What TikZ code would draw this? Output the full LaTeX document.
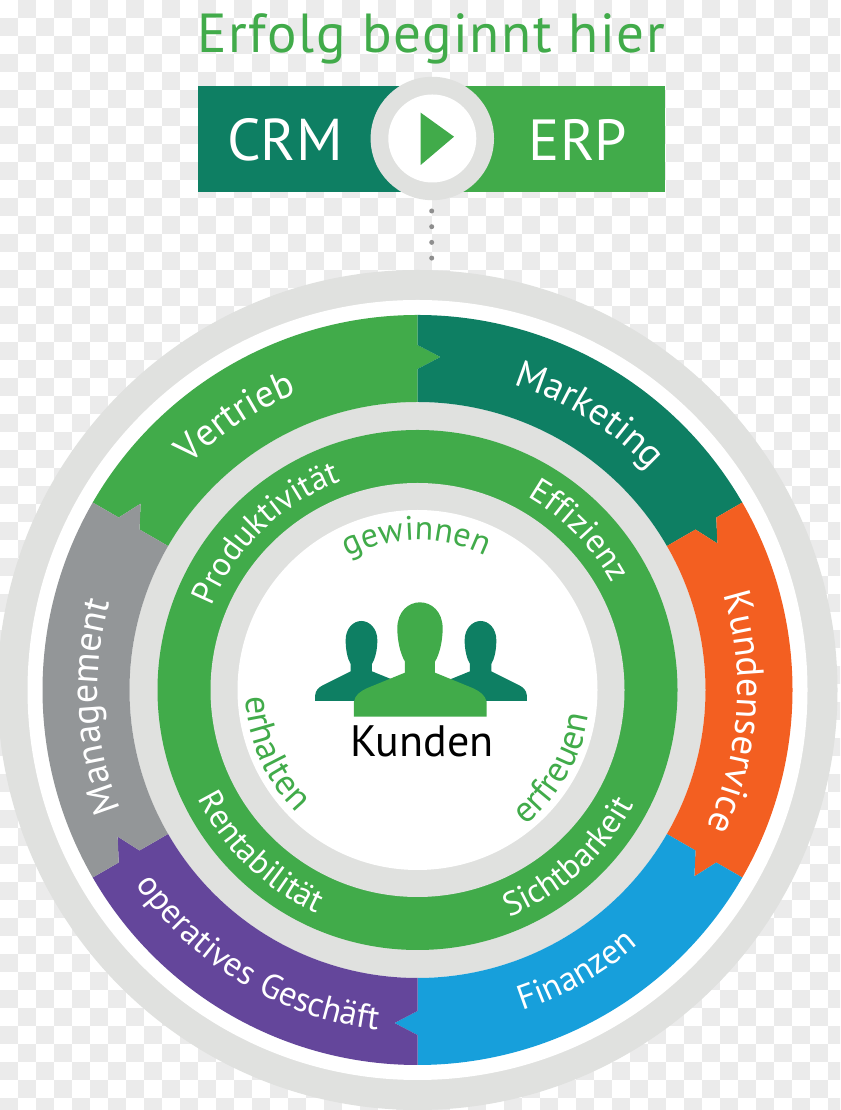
\documentclass[tikz,border=0pt]{standalone}
\usepackage{fontspec}
\setmainfont{PT Sans}
\newfontfamily\arcfont[LetterSpace=4]{PT Sans}
\newfontfamily\arcfontw[LetterSpace=18]{PT Sans}
\newfontfamily\titlefont[LetterSpace=3]{PT Sans}
\usetikzlibrary{decorations.text}
\definecolor{ringgray}{HTML}{E0E1DF}
\definecolor{checker}{HTML}{EBEBEB}
\definecolor{dkgreen}{HTML}{0E7F63}
\definecolor{ltgreen}{HTML}{41AB4A}
\definecolor{orangeseg}{HTML}{F35F21}
\definecolor{blueseg}{HTML}{179FDB}
\definecolor{purpleseg}{HTML}{64469B}
\definecolor{grayseg}{HTML}{939698}
\definecolor{dotgray}{HTML}{8E8E8E}
\newcommand\fsA{\arcfont\fontsize{38}{38}\selectfont\color{white}}
\newcommand\fsD{\arcfont\fontsize{34.5}{34.5}\selectfont\color{white}}
\newcommand\fsB{\arcfont\fontsize{33.5}{33.5}\selectfont\color{white}}
\newcommand\fsC{\arcfontw\fontsize{34}{34}\selectfont\color{ltgreen}}
\newcommand\fsE{\arcfontw\fontsize{36}{36}\selectfont\color{ltgreen}}
\newcommand\segm[3]{\fill[#3] (#1:375pt) arc[start angle=#1,end angle=#2,radius=375pt] -- (#2:345pt) -- ({#2-3.95}:333.8pt) -- (#2:321pt) -- (#2:288pt) arc[start angle=#2,end angle=#1,radius=288pt] -- (#1:321pt) -- ({#1-3.95}:333.8pt) -- (#1:345pt) -- cycle;}
% radius, centre angle, format, text
\newcommand\cwtext[4]{\path[decorate,decoration={text along path,text align=center,text={|#3|#4}}] ({#2+80}:#1pt) arc[start angle=#2+80,end angle=#2-80,radius=#1pt];}
\newcommand\ccwtext[4]{\path[decorate,decoration={text along path,text align=center,text={|#3|#4}}] ({#2-80}:#1pt) arc[start angle=#2-80,end angle=#2+80,radius=#1pt];}
\begin{document}
\begin{tikzpicture}[x=1pt,y=1pt]
\useasboundingbox (0,0) rectangle (840,1110);
\clip (0,0) rectangle (840,1110);
% transparency checker
\fill[white] (0,0) rectangle (840,1110);
\foreach \i in {0,...,46}{\foreach \j in {0,...,61}{%
  \pgfmathtruncatemacro\ckp{mod(\i+\j,2)}%
  \ifnum\ckp=1 \fill[checker] ({18*\i},{1110-18*\j}) rectangle ({18*\i+18},{1110-18*\j-18});\fi}}
% title and CRM / ERP bar
\node[anchor=base,font=\titlefont\fontsize{55}{55}\selectfont,text=ltgreen,inner sep=0pt] (title) at (431,1057) {Erfolg beginnt hier};
\fill[dkgreen] (197.5,917.5) rectangle (432,1024.3);
\fill[ltgreen] (432,917.5) rectangle (665,1024.3);
\node[anchor=base,font=\fontsize{59}{59}\selectfont,text=white,inner sep=0pt] (crm) at (285,949) {CRM};
\node[anchor=base,font=\fontsize{58}{58}\selectfont,text=white,inner sep=0pt] (erp) at (578,949) {ERP};
\fill[ringgray] (432.3,971.5) circle[radius=61.7];
\fill[white] (432.3,971.5) circle[radius=44];
\fill[ltgreen] (420.7,997.3) -- (454,973.3) -- (420.7,945) -- cycle;
\coordinate (dotA) at (431.7,899);
\coordinate (dotB) at (431.7,851);
\draw[dotgray,line width=5pt,line cap=round,dash pattern=on 0pt off 15.7pt] (dotA) -- (dotB);
% disc
\begin{scope}[shift={(417.5,420)}]
\fill[ringgray] (0,0) circle[radius=420];
\fill[white] (0,0) circle[radius=390];
\fill[ringgray] (0,0) circle[radius=288];
\segm{150}{90}{ltgreen}
\segm{90}{30}{dkgreen}
\segm{30}{-30}{orangeseg}
\segm{-30}{-90}{blueseg}
\segm{-90}{-150}{purpleseg}
\segm{-150}{-210}{grayseg}
\fill[ltgreen] (0,0) circle[radius=260];
\fill[ringgray] (0,0) circle[radius=207];
\fill[white] (0,0) circle[radius=180];
\cwtext{320}{123.7}{\fsA}{Vertrieb}
\cwtext{320}{58}{\fsA}{Marketing}
\cwtext{320}{-4}{\fsA}{Kundenservice}
\ccwtext{337}{-60.5}{\fsD}{Finanzen}
\ccwtext{342}{239}{\fsD}{operatives Geschäft}
\cwtext{320}{183}{\fsA}{Management}
\cwtext{222}{134}{\fsB}{Produktivität}
\cwtext{222}{44.5}{\fsB}{Effizienz}
\ccwtext{245}{-48}{\fsB}{Sichtbarkeit}
\ccwtext{245}{226}{\fsB}{Rentabilität}
\cwtext{150}{90.5}{\fsC}{gewinnen}
\ccwtext{172}{204}{\fsE}{erhalten}
\ccwtext{173}{-30}{\fsE}{erfreuen}
\end{scope}
% people
\begin{scope}[shift={(300,520)},x=0.3333pt,y=-0.3333pt]
\fill[dkgreen] (45,333) -- (45,318) .. controls (47,300) and (55,293) .. (70,285) -- (152,244) -- (152,222) .. controls (142,205) and (137,180) .. (137,150) .. controls (137,115) and (160,93) .. (184,93) .. controls (208,93) and (232,115) .. (232,150) .. controls (232,180) and (226,205) .. (216,222) -- (216,244) -- (275,268) -- (275,333) -- cycle;
\fill[dkgreen] (681,333) -- (681,318) .. controls (679,300) and (671,293) .. (656,285) -- (574,244) -- (574,222) .. controls (584,205) and (589,180) .. (589,150) .. controls (589,115) and (566,93) .. (542,93) .. controls (518,93) and (494,115) .. (494,150) .. controls (494,180) and (500,205) .. (510,222) -- (510,244) -- (451,268) -- (451,333) -- cycle;
\fill[ltgreen] (162,380) -- (162,335) .. controls (165,315) and (180,305) .. (200,295) -- (315,248) -- (315,215) .. controls (300,190) and (292,150) .. (292,115) .. controls (292,65) and (325,37) .. (360,37) .. controls (395,37) and (428,65) .. (428,115) .. controls (428,150) and (420,190) .. (405,215) -- (405,248) -- (520,295) .. controls (540,305) and (555,315) .. (560,335) -- (560,380) -- cycle;
\end{scope}
\node[anchor=base,font=\fontsize{44}{44}\selectfont,text=black,inner sep=0pt] (kunden) at (422,353.3) {Kunden};
\end{tikzpicture}
\end{document}
